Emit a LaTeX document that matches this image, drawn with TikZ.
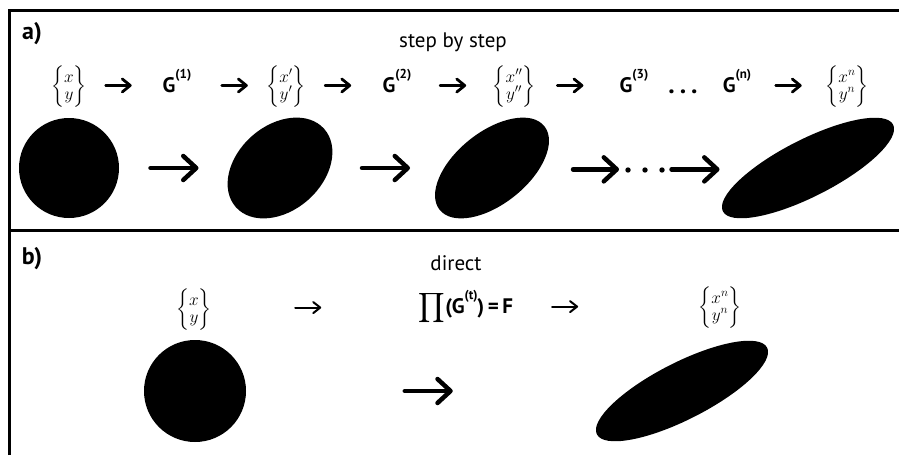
\documentclass[tikz,border=0pt]{standalone}
\usepackage{amsmath}
\usepackage{fontspec}
\setmainfont{PT Sans}
\usepackage{xcolor}
\usepackage{tikz}
\usetikzlibrary{calc,arrows.meta,shapes.geometric}
\definecolor{ink}{RGB}{0,0,0}
\newcommand{\vecxy}[2]{$\left\{\begin{matrix}#1\\[-3pt]#2\end{matrix}\right\}$}
\newcommand{\gsup}[1]{\raisebox{0.62em}{\fontsize{13}{13}\selectfont #1}}
% arrow of fixed half length, placed at a ratio between two nodes
\newcommand{\gaparrow}[5]{\draw[#1] ($(#2)!#4!(#3)+(-#5,0)$) -- ($(#2)!#4!(#3)+(#5,0)$);}
\tikzset{
    frame/.style={draw=ink, line width=3pt},
    panellbl/.style={font=\fontsize{24}{28}\selectfont\bfseries, inner sep=0pt},
    title/.style={font=\fontsize{21}{25}\selectfont, inner sep=0pt},
    rowitem/.style={anchor=base, inner sep=0pt, text height=18pt, text depth=6pt, font=\fontsize{21}{25}\selectfont\bfseries},
    vecitem/.style={anchor=base, inner sep=0pt, text height=18pt, text depth=6pt, font=\fontsize{18}{20}\selectfont},
    blob/.style={ellipse, fill=ink, draw=none, inner sep=0pt, outer sep=0pt},
    bigarr/.style={-{Straight Barb[length=13pt, width=24pt, line cap=round, line join=round]}, line width=4.5pt, line cap=round, draw=ink},
    thinarr/.style={-{Straight Barb[length=8pt, width=13pt, line cap=round, line join=round]}, line width=2.8pt, line cap=round, draw=ink},
    slimarr/.style={-{Straight Barb[length=7pt, width=11pt, line cap=round, line join=round]}, line width=2pt, line cap=round, draw=ink}
}
\begin{document}
\begin{tikzpicture}[x=1pt, y=-1pt]
\useasboundingbox (0,0) rectangle (899,455);
% frame
\draw[frame] (9,455) -- (9,10) -- (899,10);
\draw[frame] (9,230) -- (899,230);

% a) step by step
\node[panellbl] (la) at (32,34) {a)};
\node[title] (ta) at (453,42) {step by step};

\node[vecitem] (v0) at (69,91) {\vecxy{x}{y}};
\node[rowitem] (g1) at (177,92) {G\gsup{(1)}};
\node[vecitem] (v1) at (286,91) {\vecxy{x'}{y'}};
\node[rowitem] (g2) at (397,92) {G\gsup{(2)}};
\node[vecitem] (v2) at (514,91) {\vecxy{x''}{y''}};
\node[rowitem] (g3) at (634,92) {G\gsup{(3)}};
\node[rowitem, font=\fontsize{26}{28}\selectfont\bfseries] (tdots) at (683,93) {.\hspace{5pt}.\hspace{5pt}.};
\node[rowitem] (gn) at (737,92) {G\gsup{(n)}};
\node[vecitem] (v3) at (847,91) {\vecxy{x^n}{y^n}};

\gaparrow{thinarr}{v0}{g1}{0.46}{13}
\gaparrow{thinarr}{g1}{v1}{0.53}{13}
\gaparrow{thinarr}{v1}{g2}{0.47}{13}
\gaparrow{thinarr}{g2}{v2}{0.48}{13}
\gaparrow{thinarr}{v2}{g3}{0.47}{13}
\gaparrow{thinarr}{gn}{v3}{0.47}{13}

\node[blob, minimum width=100pt, minimum height=100pt] (e1) at (69,168) {};
\node[blob, minimum width=118pt, minimum height=85pt, rotate=41.5] (e2) at (280,168) {};
\node[blob, minimum width=134pt, minimum height=72pt, rotate=38.6] (e3) at (492,168) {};
\node[blob, minimum width=191pt, minimum height=57pt, rotate=27] (e4) at (808,168) {};
\node[minimum width=44pt, inner sep=0pt] (dots) at (645,170) {};
\foreach \dx in {-17,0,17}
    \fill[ink] ($(dots)+(\dx,0)$) circle (2.7pt);

\gaparrow{bigarr}{e1}{e2}{0.5}{24}
\gaparrow{bigarr}{e2}{e3}{0.5}{24}
\gaparrow{bigarr}{e3}{dots}{0.68}{23}
\gaparrow{bigarr}{dots}{e4}{0.31}{24}

% b) direct
\node[panellbl] (lb) at (32,259) {b)};
\node[title] (tb) at (456,263) {direct};

\node[vecitem] (w0) at (194,314) {\vecxy{x}{y}};
\node[rowitem] (prodF) at (466,313) {$\displaystyle\prod$(G\gsup{(t)})\,=\,F};
\node[vecitem] (w1) at (720,312) {\vecxy{x^n}{y^n}};

\gaparrow{slimarr}{w0}{prodF}{0.42}{13}
\gaparrow{slimarr}{prodF}{w1}{0.39}{13}

\node[blob, minimum width=102pt, minimum height=102pt] (c0) at (195,391) {};
\node[blob, minimum width=191pt, minimum height=57pt, rotate=27] (c1) at (682,391) {};

\gaparrow{bigarr}{c0}{c1}{0.48}{24}
\end{tikzpicture}
\end{document}
